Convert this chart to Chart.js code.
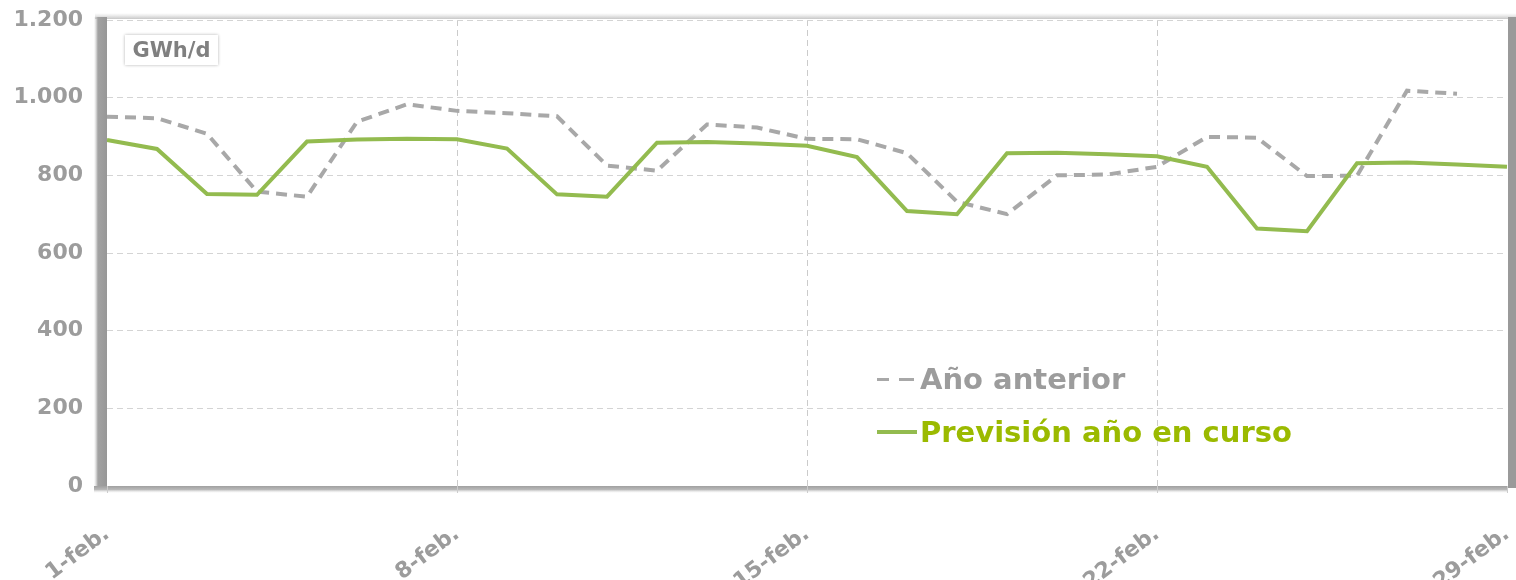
<!DOCTYPE html>
<html><head><meta charset="utf-8">
<script src="https://cdn.jsdelivr.net/npm/chart.js@4.4.1/dist/chart.umd.min.js"></script>
<style>
html,body{margin:0;padding:0;background:#fff;}
#wrap{position:relative;width:1516px;height:580px;overflow:hidden;}
#c{position:absolute;left:0;top:0;}
.unit{position:absolute;left:125px;top:35px;width:93px;height:30px;background:#fff;box-shadow:0 0 3px rgba(0,0,0,0.3);font:bold 21px 'DejaVu Sans',sans-serif;color:#808080;line-height:30px;text-align:center;}
.leg{position:absolute;left:877px;font:bold 29px 'DejaVu Sans',sans-serif;line-height:29px;white-space:nowrap;}
.leg .mk{position:absolute;left:0;width:40px;}
.leg .tx{position:absolute;left:43px;top:0;}
</style></head>
<body><div id="wrap"><canvas id="c" width="1516" height="580"></canvas>
<div class="unit">GWh/d</div>
<div class="leg" id="l1" style="top:365px;color:#9c9c9c"><div class="mk" style="top:13px;height:3px;background:linear-gradient(to right,#a8a8a8 0,#a8a8a8 12px,transparent 12px,transparent 22px,#a8a8a8 22px,#a8a8a8 37px,transparent 37px)"></div><span class="tx">Año anterior</span></div>
<div class="leg" id="l2" style="top:418px;color:#9bba00"><div class="mk" style="top:12px;height:4px;background:#93bb4f"></div><span class="tx">Previsión año en curso</span></div>
</div>
<script>
const categories = ['1-feb.','2-feb.','3-feb.','4-feb.','5-feb.','6-feb.','7-feb.','8-feb.','9-feb.','10-feb.','11-feb.','12-feb.','13-feb.','14-feb.','15-feb.','16-feb.','17-feb.','18-feb.','19-feb.','20-feb.','21-feb.','22-feb.','23-feb.','24-feb.','25-feb.','26-feb.','27-feb.','28-feb.','29-feb.'];
const prevYear = [951,947,907,758,745,938,983,966,960,952,825,812,931,923,894,893,857,732,700,800,802,822,899,897,798,799,1018,1010,null];
const forecast = [891,868,752,750,887,892,894,893,869,751,745,884,886,882,876,847,708,700,857,858,854,849,822,663,656,831,833,828,822];
const yTicks = [0,200,400,600,800,1000,1200];

function fmt(v){ return v>=1000 ? Math.floor(v/1000)+'.'+String(v%1000).padStart(3,'0') : String(v); }

const framePlugin = {
  id:'frame',
  afterDraw(chart){
    const {ctx, chartArea:{left,top,right,bottom}} = chart;
    ctx.save();
    let g = ctx.createLinearGradient(0, top-7, 0, top);
    g.addColorStop(0,'rgba(210,210,210,0)'); g.addColorStop(1,'rgba(185,185,185,1)');
    ctx.fillStyle=g; ctx.fillRect(left-12, top-7, right-left+21, 6);
    g = ctx.createLinearGradient(left-13,0,left,0);
    g.addColorStop(0,'rgba(200,200,200,0)'); g.addColorStop(0.3,'#a2a2a2'); g.addColorStop(1,'#979797');
    ctx.fillStyle=g; ctx.fillRect(left-13, top-3, 13, bottom-top+5);
    ctx.fillStyle='#9a9a9a'; ctx.fillRect(right+1, top-3, 9, bottom-top+5);
    g = ctx.createLinearGradient(0,bottom,0,bottom+7);
    g.addColorStop(0,'#a0a0a0'); g.addColorStop(0.5,'#b8b8b8'); g.addColorStop(1,'rgba(225,225,225,0)');
    ctx.fillStyle=g; ctx.fillRect(left-13, bottom, right-left+14, 7);
    const xs = chart.scales.x;
    ctx.strokeStyle='#cccccc'; ctx.lineWidth=1;
    xs.ticks.forEach(t => {
      const px = Math.round(xs.getPixelForValue(t.value)) + 0.5;
      ctx.beginPath(); ctx.moveTo(px, bottom); ctx.lineTo(px, bottom+7); ctx.stroke();
    });
    ctx.restore();
  }
};

Chart.defaults.font.family = "'DejaVu Sans', sans-serif";
Chart.defaults.font.weight = 'bold';
Chart.defaults.color = '#9c9c9c';

new Chart(document.getElementById('c'), {
  type:'line',
  data:{ labels:categories, datasets:[
    {label:'Previsión año en curso', data:forecast, borderColor:'#93bb4f', borderWidth:4, pointRadius:0, tension:0, order:0},
    {label:'Año anterior', data:prevYear, borderColor:'#a8a8a8', borderWidth:4, borderDash:[11,7], pointRadius:0, tension:0, spanGaps:false, order:1}
  ]},
  options:{
    responsive:false, animation:false, devicePixelRatio:1,
    layout:{padding:{top:20,right:9,left:0,bottom:0}},
    plugins:{legend:{display:false}, tooltip:{enabled:false}},
    scales:{
      x:{
        grid:{ color:c => (c.tick && c.tick.value%7===0 && c.tick.value>0 && c.tick.value<28) ? '#cbcbcb' : 'rgba(0,0,0,0)', drawTicks:false, lineWidth:1 },
        border:{display:false, dash:[6,4]},
        ticks:{ autoSkip:false, maxRotation:37, minRotation:37, padding:35, font:{size:22, weight:'bold'}, color:'#9c9c9c',
          callback:(v,i) => i%7===0 ? categories[i] : null },
        afterFit:s => { s.height = 94; s.paddingLeft = 0; s.paddingRight = 0; }
      },
      y:{
        min:0, max:1200,
        afterBuildTicks:s => { s.ticks = yTicks.map(v => ({value:v})); },
        grid:{ color:c => c.tick && c.tick.value===0 ? 'rgba(0,0,0,0)' : '#d4d4d4', drawTicks:false, lineWidth:1 },
        border:{display:false, dash:[6,4]},
        ticks:{ padding:24, font:{size:22, weight:'bold'}, color:'#9c9c9c', callback:v => fmt(v) },
        afterFit:s => { s.width = 107; s.paddingTop = 0; s.paddingBottom = 0; }
      }
    }
  },
  plugins:[framePlugin]
});
</script></body></html>
